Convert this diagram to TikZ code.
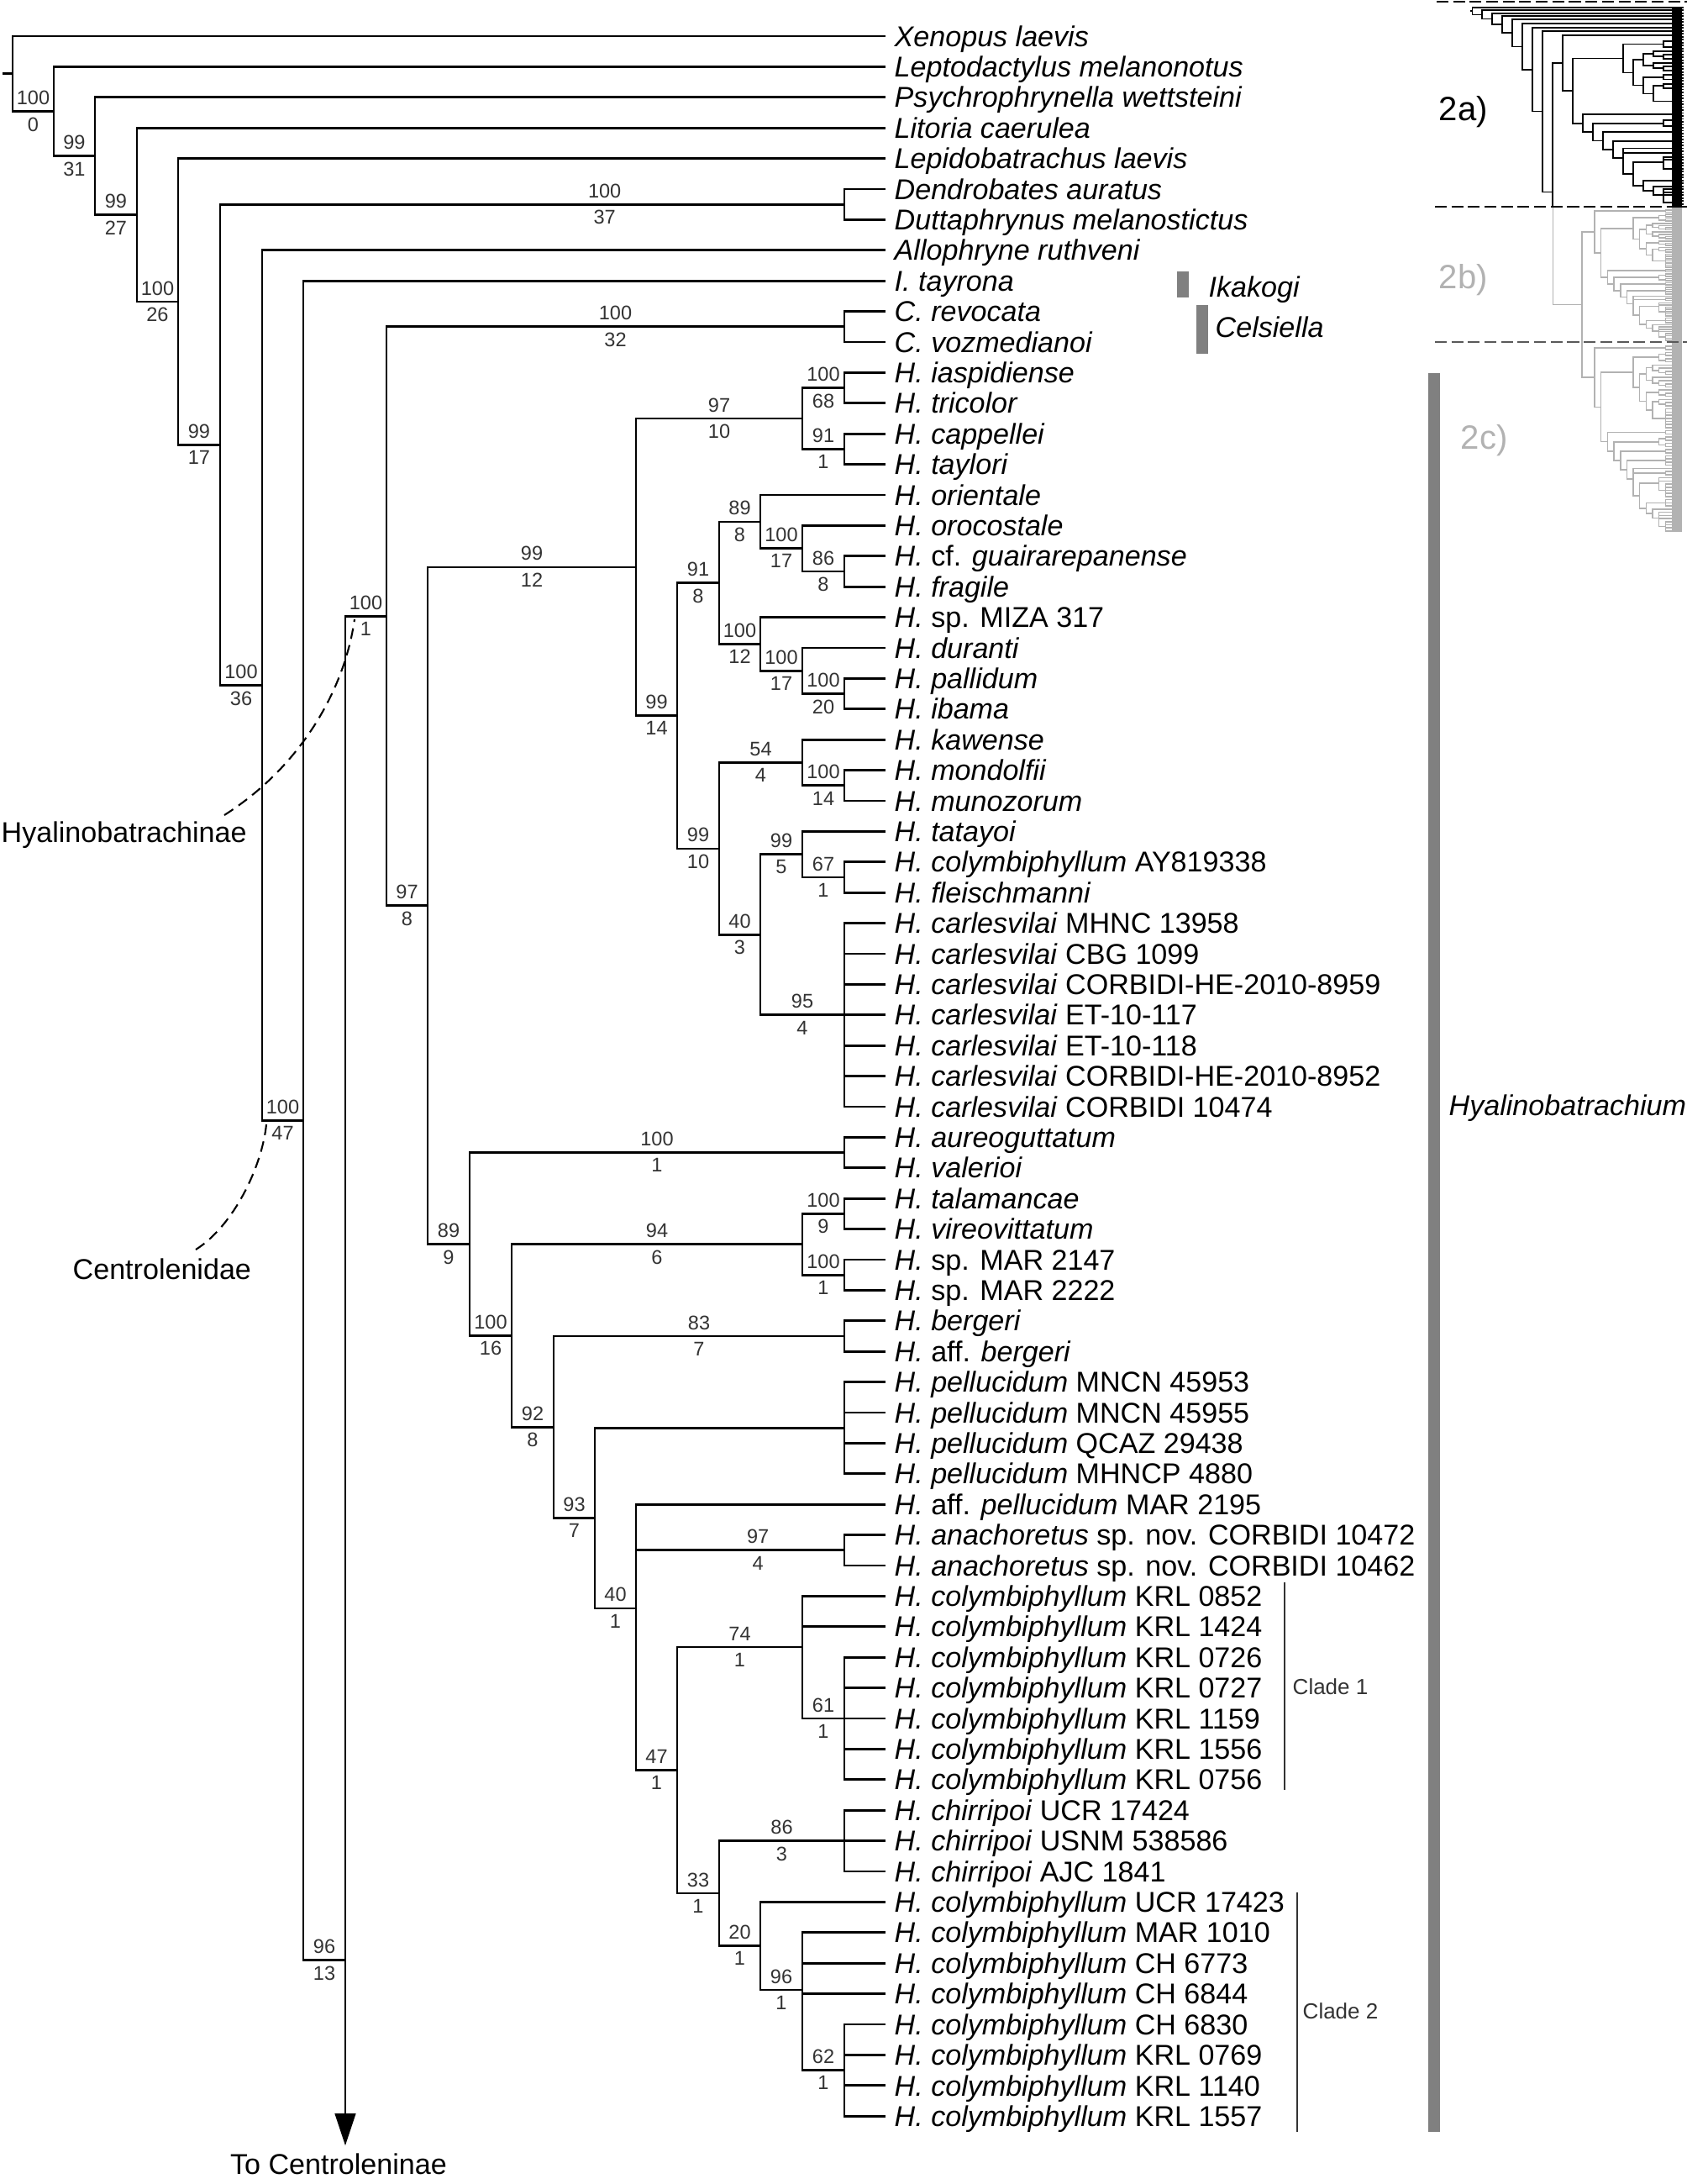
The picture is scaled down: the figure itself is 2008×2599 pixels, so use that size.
\documentclass[tikz,border=0pt]{standalone}
\usepackage{fontspec}
\setmainfont{Liberation Sans}
\usetikzlibrary{arrows.meta}

\newcommand\tipfont{\fontsize{9.7}{11}\selectfont}
\newcommand\supfont{\fontsize{6.7}{7}\selectfont}
\newcommand\cladefont{\fontsize{7.4}{8}\selectfont}
\newcommand\panelfont{\fontsize{11.4}{13}\selectfont}

\tikzset{
  br/.style={line width=0.75pt},
  tip/.style={anchor=base west, inner sep=0pt, xshift=1mm, yshift=-3.47pt, font=\tipfont},
  boot/.style={font=\supfont, text=black!80, inner sep=0pt, anchor=south, yshift=2pt},
  brem/.style={font=\supfont, text=black!80, inner sep=0pt, anchor=north, yshift=-1.8pt},
  lbl/.style={anchor=base west, inner sep=0pt, font=\tipfont},
  lead/.style={line width=0.6pt, dash pattern=on 3.6pt off 2.2pt},
  genbar/.style={fill=black!50},
  cladeline/.style={line width=0.6pt, black!80},
  cladetxt/.style={anchor=base west, inner sep=0pt, font=\cladefont, text=black!80},
  panel/.style={anchor=base west, inner sep=0pt, font=\panelfont},
  cutline/.style={line width=0.8pt, dash pattern=on 4pt off 1.6pt},
}

% support values above/below a branch
\newcommand\bsval[5][0.5]{%
  \path (#2|-#3) -- (#3)
    node[boot, pos=#1] (#3-bs) {#4}
    node[brem, pos=#1] (#3-br) {#5};}

% outgroups and backbone
\newcommand\stemtree{%
  \foreach \k in {1,...,9} {\coordinate (t\k) at (1054,\k);}
  \coordinate (root) at (3,2.230);
  \coordinate (R0) at (15,2.230);
  \coordinate (A1) at (64,3.460);
  \coordinate (A2) at (113,4.920);
  \coordinate (A3) at (163,6.841);
  \coordinate (A4) at (212,9.681);
  \coordinate (A5) at (262,14.363);
  \coordinate (A6) at (312,22.225);
  \coordinate (A7) at (361,36.450);
  \coordinate (B) at (411,63.90);
  \coordinate (DD) at (1005,6.5);
  \draw[br] (root) -- (R0);
  \draw[br] (R0) |- (t1) (R0) |- (A1);
  \draw[br] (A1) |- (t2) (A1) |- (A2);
  \draw[br] (A2) |- (t3) (A2) |- (A3);
  \draw[br] (A3) |- (t4) (A3) |- (A4);
  \draw[br] (A4) |- (t5) (A4) |- (A5);
  \draw[br] (A5) |- (DD) (A5) |- (A6);
  \draw[br] (DD) |- (t6) (DD) |- (t7);
  \draw[br] (A6) |- (t8) (A6) |- (A7);
  \draw[br] (A7) |- (t9) (A7) |- (B);
}

% Celsiella + Hyalinobatrachium
\newcommand\hyalotree{%
  \foreach \k in {10,...,69} {\coordinate (t\k) at (1054,\k);}
  \coordinate (H) at (460,19.963);
  \coordinate (Cel) at (1005,10.5);
  \coordinate (C) at (509,29.426);
  \coordinate (D) at (757,18.359);
  \coordinate (E) at (955,13.5);
  \coordinate (E1) at (1005,12.5);
  \coordinate (E2) at (1005,14.5);
  \coordinate (F) at (806,23.219);
  \coordinate (G) at (856,18.875);
  \coordinate (G1) at (905,16.875);
  \coordinate (G2) at (955,17.75);
  \coordinate (G3) at (1005,18.5);
  \coordinate (G4) at (905,20.875);
  \coordinate (G5) at (955,21.75);
  \coordinate (G6) at (1005,22.5);
  \coordinate (I) at (856,27.563);
  \coordinate (I1) at (955,24.75);
  \coordinate (I2) at (1005,25.5);
  \coordinate (J) at (905,30.375);
  \coordinate (J1) at (955,27.75);
  \coordinate (J2) at (1005,28.5);
  \coordinate (J3) at (1005,33);
  \coordinate (K) at (559,40.494);
  \coordinate (K1) at (1005,37.5);
  \coordinate (L) at (609,43.487);
  \coordinate (L1) at (955,40.5);
  \coordinate (L2) at (1005,39.5);
  \coordinate (L3) at (1005,41.5);
  \coordinate (M) at (659,46.474);
  \coordinate (M1) at (1005,43.5);
  \coordinate (N) at (708,49.449);
  \coordinate (N1) at (1005,46.5);
  \coordinate (O) at (757,52.398);
  \coordinate (O1) at (1005,50.5);
  \coordinate (P) at (806,57.693);
  \coordinate (Q) at (955,53.667);
  \coordinate (Q1) at (1005,56);
  \coordinate (S) at (856,61.719);
  \coordinate (S1) at (1005,60);
  \coordinate (T) at (905,63.438);
  \coordinate (U) at (955,64.875);
  \coordinate (U1) at (1005,67.5);
  \draw[br] (H) |- (Cel) (H) |- (C);
  \draw[br] (Cel) |- (t10) (Cel) |- (t11);
  \draw[br] (C) |- (D) (C) |- (K);
  \draw[br] (D) |- (E) (D) |- (F);
  \draw[br] (E) |- (E1) (E) |- (E2);
  \draw[br] (E1) |- (t12) (E1) |- (t13);
  \draw[br] (E2) |- (t14) (E2) |- (t15);
  \draw[br] (F) |- (G) (F) |- (I);
  \draw[br] (G) |- (G1) (G) |- (G4);
  \draw[br] (G1) |- (t16) (G1) |- (G2);
  \draw[br] (G2) |- (t17) (G2) |- (G3);
  \draw[br] (G3) |- (t18) (G3) |- (t19);
  \draw[br] (G4) |- (t20) (G4) |- (G5);
  \draw[br] (G5) |- (t21) (G5) |- (G6);
  \draw[br] (G6) |- (t22) (G6) |- (t23);
  \draw[br] (I) |- (I1) (I) |- (J);
  \draw[br] (I1) |- (t24) (I1) |- (I2);
  \draw[br] (I2) |- (t25) (I2) |- (t26);
  \draw[br] (J) |- (J1) (J) |- (J3);
  \draw[br] (J1) |- (t27) (J1) |- (J2);
  \draw[br] (J2) |- (t28) (J2) |- (t29);
  \foreach \k in {30,...,36} {\draw[br] (J3) |- (t\k);}
  \draw[br] (K) |- (K1) (K) |- (L);
  \draw[br] (K1) |- (t37) (K1) |- (t38);
  \draw[br] (L) |- (L1) (L) |- (M);
  \draw[br] (L1) |- (L2) (L1) |- (L3);
  \draw[br] (L2) |- (t39) (L2) |- (t40);
  \draw[br] (L3) |- (t41) (L3) |- (t42);
  \draw[br] (M) |- (M1) (M) |- (N);
  \draw[br] (M1) |- (t43) (M1) |- (t44);
  \draw[br] (N) |- (N1) (N) |- (O);
  \foreach \k in {45,...,48} {\draw[br] (N1) |- (t\k);}
  \draw[br] (O) |- (t49) (O) |- (O1) (O) |- (P);
  \draw[br] (O1) |- (t50) (O1) |- (t51);
  \draw[br] (P) |- (Q) (P) |- (S);
  \draw[br] (Q) |- (t52) (Q) |- (t53) (Q) |- (Q1);
  \foreach \k in {54,...,58} {\draw[br] (Q1) |- (t\k);}
  \draw[br] (S) |- (S1) (S) |- (T);
  \foreach \k in {59,60,61} {\draw[br] (S1) |- (t\k);}
  \draw[br] (T) |- (t62) (T) |- (U);
  \draw[br] (U) |- (t63) (U) |- (t64) (U) |- (t65) (U) |- (U1);
  \foreach \k in {66,...,69} {\draw[br] (U1) |- (t\k);}
}

\begin{document}
\begin{tikzpicture}[x=0.1mm, y=-0.1mm]
\useasboundingbox (0,0) rectangle (2008,2599);

% main tree, one row per terminal
\begin{scope}[y=-3.64mm, yshift=-0.66mm]
  \stemtree
  \hyalotree
  \draw[br] (B) |- (H);
  \coordinate (cent) at (411,69.96);
  \draw[br, -{Triangle[length=10.8pt, width=7pt]}] (B) -- (cent);

  \bsval{R0}{A1}{100}{0}
  \bsval{A1}{A2}{99}{31}
  \bsval{A2}{A3}{99}{27}
  \bsval{A3}{A4}{100}{26}
  \bsval{A4}{A5}{99}{17}
  \bsval[0.616]{A5}{DD}{100}{37}
  \bsval{A5}{A6}{100}{36}
  \bsval{A6}{A7}{100}{47}
  \bsval{A7}{B}{96}{13}
  \bsval{B}{H}{100}{1}
  \bsval{H}{Cel}{100}{32}
  \bsval{H}{C}{97}{8}
  \bsval{C}{D}{99}{12}
  \bsval{C}{K}{89}{9}
  \bsval{D}{E}{97}{10}
  \bsval{D}{F}{99}{14}
  \bsval{E}{E1}{100}{68}
  \bsval{E}{E2}{91}{1}
  \bsval{F}{G}{91}{8}
  \bsval{F}{I}{99}{10}
  \bsval{G}{G1}{89}{8}
  \bsval{G}{G4}{100}{12}
  \bsval{G1}{G2}{100}{17}
  \bsval{G2}{G3}{86}{8}
  \bsval{G4}{G5}{100}{17}
  \bsval{G5}{G6}{100}{20}
  \bsval{I}{I1}{54}{4}
  \bsval{I}{J}{40}{3}
  \bsval{I1}{I2}{100}{14}
  \bsval{J}{J1}{99}{5}
  \bsval{J}{J3}{95}{4}
  \bsval{J1}{J2}{67}{1}
  \bsval{K}{K1}{100}{1}
  \bsval{K}{L}{100}{16}
  \bsval{L}{L1}{94}{6}
  \bsval{L}{M}{92}{8}
  \bsval{L1}{L2}{100}{9}
  \bsval{L1}{L3}{100}{1}
  \bsval{M}{M1}{83}{7}
  \bsval{M}{N}{93}{7}
  \bsval{N}{O}{40}{1}
  \bsval[0.585]{O}{O1}{97}{4}
  \bsval{O}{P}{47}{1}
  \bsval{P}{Q}{74}{1}
  \bsval{P}{S}{33}{1}
  \bsval{Q}{Q1}{61}{1}
  \bsval{S}{S1}{86}{3}
  \bsval{S}{T}{20}{1}
  \bsval{T}{U}{96}{1}
  \bsval{U}{U1}{62}{1}

  \node[tip] (n1) at (t1) {\textit{Xenopus laevis}};
  \node[tip] (n2) at (t2) {\textit{Leptodactylus melanonotus}};
  \node[tip] (n3) at (t3) {\textit{Psychrophrynella wettsteini}};
  \node[tip] (n4) at (t4) {\textit{Litoria caerulea}};
  \node[tip] (n5) at (t5) {\textit{Lepidobatrachus laevis}};
  \node[tip] (n6) at (t6) {\textit{Dendrobates auratus}};
  \node[tip] (n7) at (t7) {\textit{Duttaphrynus melanostictus}};
  \node[tip] (n8) at (t8) {\textit{Allophryne ruthveni}};
  \node[tip] (n9) at (t9) {\textit{I. tayrona}};
  \node[tip] (n10) at (t10) {\textit{C. revocata}};
  \node[tip] (n11) at (t11) {\textit{C. vozmedianoi}};
  \node[tip] (n12) at (t12) {\textit{H. iaspidiense}};
  \node[tip] (n13) at (t13) {\textit{H. tricolor}};
  \node[tip] (n14) at (t14) {\textit{H. cappellei}};
  \node[tip] (n15) at (t15) {\textit{H. taylori}};
  \node[tip] (n16) at (t16) {\textit{H. orientale}};
  \node[tip] (n17) at (t17) {\textit{H. orocostale}};
  \node[tip] (n18) at (t18) {\textit{H.} cf. \textit{guairarepanense}};
  \node[tip] (n19) at (t19) {\textit{H. fragile}};
  \node[tip] (n20) at (t20) {\textit{H.} sp. MIZA 317};
  \node[tip] (n21) at (t21) {\textit{H. duranti}};
  \node[tip] (n22) at (t22) {\textit{H. pallidum}};
  \node[tip] (n23) at (t23) {\textit{H. ibama}};
  \node[tip] (n24) at (t24) {\textit{H. kawense}};
  \node[tip] (n25) at (t25) {\textit{H. mondolfii}};
  \node[tip] (n26) at (t26) {\textit{H. munozorum}};
  \node[tip] (n27) at (t27) {\textit{H. tatayoi}};
  \node[tip] (n28) at (t28) {\textit{H. colymbiphyllum} AY819338};
  \node[tip] (n29) at (t29) {\textit{H. fleischmanni}};
  \node[tip] (n30) at (t30) {\textit{H. carlesvilai} MHNC 13958};
  \node[tip] (n31) at (t31) {\textit{H. carlesvilai} CBG 1099};
  \node[tip] (n32) at (t32) {\textit{H. carlesvilai} CORBIDI-HE-2010-8959};
  \node[tip] (n33) at (t33) {\textit{H. carlesvilai} ET-10-117};
  \node[tip] (n34) at (t34) {\textit{H. carlesvilai} ET-10-118};
  \node[tip] (n35) at (t35) {\textit{H. carlesvilai} CORBIDI-HE-2010-8952};
  \node[tip] (n36) at (t36) {\textit{H. carlesvilai} CORBIDI 10474};
  \node[tip] (n37) at (t37) {\textit{H. aureoguttatum}};
  \node[tip] (n38) at (t38) {\textit{H. valerioi}};
  \node[tip] (n39) at (t39) {\textit{H. talamancae}};
  \node[tip] (n40) at (t40) {\textit{H. vireovittatum}};
  \node[tip] (n41) at (t41) {\textit{H.} sp. MAR 2147};
  \node[tip] (n42) at (t42) {\textit{H.} sp. MAR 2222};
  \node[tip] (n43) at (t43) {\textit{H. bergeri}};
  \node[tip] (n44) at (t44) {\textit{H.} aff. \textit{bergeri}};
  \node[tip] (n45) at (t45) {\textit{H. pellucidum} MNCN 45953};
  \node[tip] (n46) at (t46) {\textit{H. pellucidum} MNCN 45955};
  \node[tip] (n47) at (t47) {\textit{H. pellucidum} QCAZ 29438};
  \node[tip] (n48) at (t48) {\textit{H. pellucidum} MHNCP 4880};
  \node[tip] (n49) at (t49) {\textit{H.} aff. \textit{pellucidum} MAR 2195};
  \node[tip] (n50) at (t50) {\textit{H. anachoretus} sp. nov. CORBIDI 10472};
  \node[tip] (n51) at (t51) {\textit{H. anachoretus} sp. nov. CORBIDI 10462};
  \node[tip] (n52) at (t52) {\textit{H. colymbiphyllum} KRL 0852};
  \node[tip] (n53) at (t53) {\textit{H. colymbiphyllum} KRL 1424};
  \node[tip] (n54) at (t54) {\textit{H. colymbiphyllum} KRL 0726};
  \node[tip] (n55) at (t55) {\textit{H. colymbiphyllum} KRL 0727};
  \node[tip] (n56) at (t56) {\textit{H. colymbiphyllum} KRL 1159};
  \node[tip] (n57) at (t57) {\textit{H. colymbiphyllum} KRL 1556};
  \node[tip] (n58) at (t58) {\textit{H. colymbiphyllum} KRL 0756};
  \node[tip] (n59) at (t59) {\textit{H. chirripoi} UCR 17424};
  \node[tip] (n60) at (t60) {\textit{H. chirripoi} USNM 538586};
  \node[tip] (n61) at (t61) {\textit{H. chirripoi} AJC 1841};
  \node[tip] (n62) at (t62) {\textit{H. colymbiphyllum} UCR 17423};
  \node[tip] (n63) at (t63) {\textit{H. colymbiphyllum} MAR 1010};
  \node[tip] (n64) at (t64) {\textit{H. colymbiphyllum} CH 6773};
  \node[tip] (n65) at (t65) {\textit{H. colymbiphyllum} CH 6844};
  \node[tip] (n66) at (t66) {\textit{H. colymbiphyllum} CH 6830};
  \node[tip] (n67) at (t67) {\textit{H. colymbiphyllum} KRL 0769};
  \node[tip] (n68) at (t68) {\textit{H. colymbiphyllum} KRL 1140};
  \node[tip] (n69) at (t69) {\textit{H. colymbiphyllum} KRL 1557};
\end{scope}

% clade names on the left
\node[lbl] (hyl) at (1,1002) {Hyalinobatrachinae};
\node[lbl] (cen) at (86,1522) {Centrolenidae};
\node[lbl, anchor=base] (tocent) at (403,2587) {To Centroleninae};
\coordinate (hyl-a) at (267,970);
\coordinate (hyl-b) at (422,737);
\coordinate (cen-a) at (233,1487);
\coordinate (cen-b) at (317,1338);
\draw[lead] (hyl-a) .. controls (357,913) and (410,822) .. (hyl-b);
\draw[lead] (cen-a) .. controls (278,1459) and (312,1388) .. (cen-b);

% genus bars
\fill[genbar] (1401,323) rectangle (1415,354);
\fill[genbar] (1424,363) rectangle (1438,421);
\fill[genbar] (1700,444) rectangle (1714,2537);
\node[lbl] (ika) at (1438,354) {\textit{Ikakogi}};
\node[lbl] (cel) at (1446,402) {\textit{Celsiella}};
\node[lbl] (hya) at (1724,1327) {\textit{Hyalinobatrachium}};

% clade brackets
\draw[cladeline] (1529,1883) -- (1529,2130);
\draw[cladeline] (1544,2252) -- (1544,2537);
\node[cladetxt] (cl1) at (1538,2016) {Clade 1};
\node[cladetxt] (cl2) at (1550,2402) {Clade 2};

% thumbnail of the whole tree
\fill[black] (1990,8) rectangle (2002,247);
\fill[black!30] (1990,247) rectangle (2002,633);
\begin{scope}[shift={(1748.8,5.4)}, y=-0.349mm, xscale=0.242, name prefix=in-, br/.style={line width=0.5pt}]
  \stemtree
  \hyalotree
  \draw[br] (B) |- (H);
\end{scope}
\begin{scope}[shift={(1826.7,223.7)}, y=-0.2627mm, xscale=0.1549, name prefix=gb-, br/.style={line width=0.45pt, black!30}]
  \hyalotree
\end{scope}
\begin{scope}[shift={(1826.7,374.7)}, y=-0.3729mm, xscale=0.1549, name prefix=gc-, br/.style={line width=0.45pt, black!30}]
  \hyalotree
\end{scope}
\coordinate (cut) at (1848,246);
\coordinate (g0) at (1883,362.6);
\draw[line width=0.5pt] (in-B) -- (in-B |- cut);
\draw[line width=0.45pt, black!30] (in-B |- cut) |- (g0) (g0) |- (gb-H) (g0) |- (gc-H);

\draw[cutline] (1710,2) -- (2008,2);
\draw[cutline] (1708,246) -- (2008,246);
\draw[cutline, black!65] (1708,407) -- (2008,407);
\node[panel] (p2a) at (1712,144) {2a)};
\node[panel, text=black!30] (p2b) at (1712,344) {2b)};
\node[panel, text=black!30] (p2c) at (1738,534) {2c)};
\end{tikzpicture}
\end{document}
